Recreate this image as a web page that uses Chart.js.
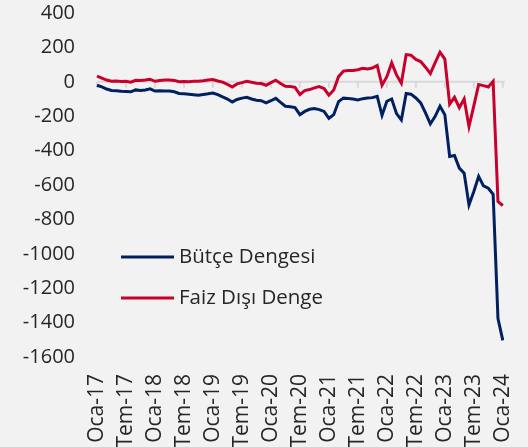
<!DOCTYPE html>
<html>
<head>
<meta charset="utf-8">
<script src="https://cdn.jsdelivr.net/npm/chart.js@4/dist/chart.umd.min.js"></script>
<style>
  html, body { margin: 0; padding: 0; background: #f2f2f2; }
  #wrap { width: 528px; height: 447px; }
</style>
</head>
<body>
<div id="wrap"><canvas id="mycanvas"></canvas></div>
<script>
// ay ve yil etiketleri
var months = ['Oca','Şub','Mar','Nis','May','Haz','Tem','Ağu','Eyl','Eki','Kas','Ara'];
var years = ['17','18','19','20','21','22','23','24'];

// Bütçe Dengesi (Oca-17 .. Oca-24)
var butceDengesi = [
	-20, -30, -42, -50, -52, -55, -56, -58, -47, -50, -48, -41,
	-54, -52, -53, -54, -58, -68, -70, -72, -75, -78, -74, -70,
	-65, -75, -88, -100, -117, -103, -95, -90, -100, -107, -110, -123,
	-110, -96, -120, -142, -145, -150, -191, -172, -160, -155, -162, -172,
	-212, -191, -115, -95, -97, -100, -105, -98, -94, -92, -84, -195,
	-113, -100, -185, -222, -68, -72, -94, -123, -181, -245, -201, -142,
	-191, -434, -428, -502, -531, -716, -638, -550, -605, -619, -654, -1377,
	-1503
];

// Faiz Dışı Denge
var faizDisiDenge = [
	33, 22, 10, 3, 5, 2, 3, -2, 9, 8, 10, 15,
	3, 8, 10, 11, 8, 0, 2, 0, 3, 3, 6, 10,
	13, 5, -2, -15, -30, -12, -5, 3, -3, -8, -10, -20,
	-5, 9, -10, -26, -28, -32, -74, -51, -45, -35, -28, -39,
	-78, -48, 30, 62, 66, 66, 70, 79, 75, 80, 95, -20,
	30, 110, 40, -8, 158, 155, 130, 118, 85, 48, 112, 172,
	132, -130, -90, -150, -100, -260, -140, -16, -22, -30, 3, -696,
	-720
];

var yTicks = [400, 200, 0, -200, -400, -600, -800, -1000, -1200, -1400, -1600];

var labels = [];
for (var y = 0; y < years.length; y++) {
	for (var m = 0; m < 12; m++) {
		if (labels.length < butceDengesi.length) labels.push(months[m] + '-' + years[y]);
	}
}

var FONT = '"Open Sans", sans-serif';
var TEXT = '#262626';

// sifir cizgisi ve 6 aylik tik isaretleri
var zeroAxis = {
	id: 'zeroAxis',
	beforeDatasetsDraw: function(chart) {
		var ctx = chart.ctx, xs = chart.scales.x, ys = chart.scales.y;
		var y0 = ys.getPixelForValue(0);
		ctx.save();
		ctx.strokeStyle = '#d9d9d9';
		ctx.lineWidth = 2;
		ctx.beginPath();
		ctx.moveTo(chart.chartArea.left, y0);
		ctx.lineTo(chart.chartArea.right + 2, y0);
		for (var i = 0; i < labels.length; i += 6) {
			var x = xs.getPixelForValue(i);
			ctx.moveTo(x, y0);
			ctx.lineTo(x, y0 + 6);
		}
		ctx.stroke();
		ctx.restore();
	}
};

// grafik icindeki gosterge
var innerLegend = {
	id: 'innerLegend',
	afterDraw: function(chart) {
		var ctx = chart.ctx;
		var items = [
			{ text: 'Bütçe Dengesi', color: '#002060', y: 257 },
			{ text: 'Faiz Dışı Denge', color: '#c8002d', y: 298 }
		];
		ctx.save();
		ctx.font = '20.5px ' + FONT;
		ctx.textBaseline = 'middle';
		ctx.fillStyle = TEXT;
		items.forEach(function(it) {
			ctx.strokeStyle = it.color;
			ctx.lineWidth = 3;
			ctx.beginPath();
			ctx.moveTo(121, it.y);
			ctx.lineTo(174, it.y);
			ctx.stroke();
			ctx.fillText(it.text, 179, it.y);
		});
		ctx.restore();
	}
};

var ctx = document.getElementById('mycanvas');
var chart = new Chart(ctx, {
	type: 'line',
	data: {
		labels: labels,
		datasets: [
			{
				label: 'Bütçe Dengesi',
				data: butceDengesi,
				borderColor: '#002060',
				borderWidth: 3,
				pointRadius: 0,
				tension: 0
			},
			{
				label: 'Faiz Dışı Denge',
				data: faizDisiDenge,
				borderColor: '#c8002d',
				borderWidth: 3,
				pointRadius: 0,
				tension: 0
			}
		]
	},
	options: {
		responsive: true,
		maintainAspectRatio: false,
		animation: false,
		layout: { padding: { left: 0, right: 25, top: 13, bottom: 0 } },
		plugins: {
			legend: { display: false },
			tooltip: { enabled: false }
		},
		scales: {
			x: {
				grid: { display: true, drawOnChartArea: false, drawTicks: true, tickLength: 17, color: 'rgba(0,0,0,0)' },
				border: { display: false },
				afterFit: function(s) { s.height = 90; },
				ticks: {
					autoSkip: false,
					minRotation: 90,
					maxRotation: 90,
					padding: 0,
					color: TEXT,
					font: { family: FONT, size: 21 },
					callback: function(val, idx) {
						return idx % 6 === 0 ? this.getLabelForValue(val) : '';
					}
				}
			},
			y: {
				min: yTicks[yTicks.length - 1],
				max: yTicks[0],
				grid: { display: true, drawOnChartArea: false, drawTicks: true, tickLength: 22, color: 'rgba(0,0,0,0)' },
				border: { display: false },
				afterFit: function(s) { s.width = 97; },
				afterBuildTicks: function(s) {
					s.ticks = yTicks.map(function(v) { return { value: v }; });
				},
				ticks: {
					padding: 0,
					color: TEXT,
					font: { family: FONT, size: 20 },
					callback: function(v) { return String(v); }
				}
			}
		}
	},
	plugins: [zeroAxis, innerLegend]
});
</script>
</body>
</html>
